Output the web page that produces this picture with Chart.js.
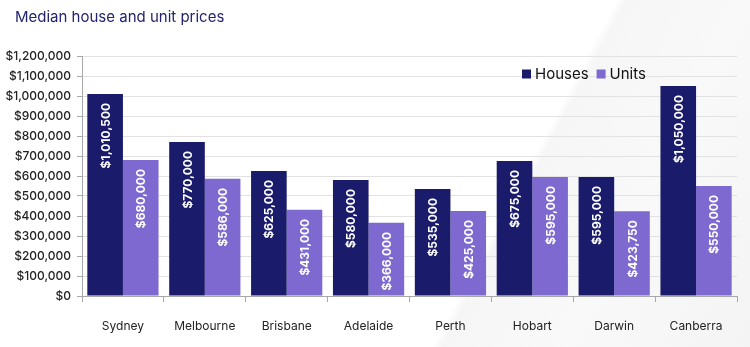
<!DOCTYPE html>
<html>
<head>
<meta charset="utf-8">
<script src="https://cdn.jsdelivr.net/npm/chart.js@4/dist/chart.umd.min.js"></script>
<style>
  html, body { margin: 0; padding: 0; }
  body {
    width: 750px; height: 347px; overflow: hidden;
    background: linear-gradient(118deg, #ffffff 0%, #ffffff 66%, #f6f6f7 67%, #f9f9fa 80%, #f4f4f5 100%);
    font-family: Inter, "Open Sans", sans-serif;
  }
  #wrap { position: relative; width: 750px; height: 347px; }
  #title {
    position: absolute; left: 15px; top: 7px;
    font-size: 15px; color: #23236e; line-height: 20px;
  }
  canvas { position: absolute; left: 0; top: 0; }
</style>
</head>
<body>
<div id="wrap">
  <canvas id="c" width="750" height="347"></canvas>
  <div id="title"></div>
</div>
<script>
// Median prices by capital city
const cities = ['Sydney', 'Melbourne', 'Brisbane', 'Adelaide', 'Perth', 'Hobart', 'Darwin', 'Canberra'];
const housePrices = [1010500, 770000, 625000, 580000, 535000, 675000, 595000, 1050000];
const unitPrices = [680000, 586000, 431000, 366000, 425000, 595000, 423750, 550000];
const seriesNames = ['Houses', 'Units'];
const chartTitle = 'Median house and unit prices';

document.getElementById('title').textContent = chartTitle;

const FONT = 'Inter, "Open Sans", sans-serif';
const NAVY = '#1a1b6b';
const LAVENDER = '#7d69d0';

const money = v => '$' + Math.round(v).toLocaleString('en-US');

// Value labels written vertically inside each bar, near its top
const barLabels = {
  id: 'barLabels',
  afterDatasetsDraw(chart) {
    const ctx = chart.ctx;
    chart.data.datasets.forEach((ds, di) => {
      const meta = chart.getDatasetMeta(di);
      meta.data.forEach((bar, i) => {
        ctx.save();
        ctx.translate(bar.x, bar.y + 9);
        ctx.rotate(-Math.PI / 2);
        ctx.fillStyle = '#ffffff';
        ctx.font = 'bold 12px ' + FONT;
        ctx.textAlign = 'right';
        ctx.textBaseline = 'middle';
        ctx.fillText(money(ds.data[i]), 0, 1);
        ctx.restore();
      });
    });
  }
};

// Compact legend placed inside the plot, upper right
const innerLegend = {
  id: 'innerLegend',
  afterDraw(chart) {
    const ctx = chart.ctx;
    ctx.save();
    ctx.font = '15px ' + FONT;
    ctx.textBaseline = 'middle';
    let x = 522;
    const y = 74;
    chart.data.datasets.forEach(ds => {
      ctx.fillStyle = ds.backgroundColor;
      ctx.fillRect(x, y - 4.5, 9, 9);
      x += 13;
      ctx.fillStyle = '#111111';
      ctx.fillText(ds.label, x, y);
      x += ctx.measureText(ds.label).width + 8;
    });
    ctx.restore();
  }
};

new Chart(document.getElementById('c'), {
  type: 'bar',
  data: {
    labels: cities,
    datasets: [
      { label: seriesNames[0], data: housePrices, backgroundColor: NAVY },
      { label: seriesNames[1], data: unitPrices, backgroundColor: LAVENDER }
    ]
  },
  options: {
    responsive: false,
    animation: false,
    layout: { padding: { top: 56, right: 13, bottom: 0, left: 0 } },
    datasets: { bar: { categoryPercentage: 0.87, barPercentage: 1.0 } },
    plugins: {
      legend: { display: false },
      tooltip: { enabled: false },
      title: { display: false }
    },
    scales: {
      x: {
        afterFit(scale) { scale.height = 51; },
        grid: { display: true, drawOnChartArea: false, drawTicks: true, tickLength: 6, color: '#a8a8a8', offset: true },
        border: { color: '#a8a8a8' },
        ticks: { color: '#222222', font: { family: FONT, size: 12 }, padding: 17 }
      },
      y: {
        min: 0,
        max: 1200000,
        afterFit(scale) { scale.width = 82; },
        grid: { color: '#e2e2e2', tickLength: 5, tickColor: '#a8a8a8' },
        border: { color: '#a8a8a8' },
        ticks: {
          stepSize: 100000,
          color: '#222222',
          font: { family: FONT, size: 12, weight: '500' },
          padding: 6,
          callback: v => money(v)
        }
      }
    }
  },
  plugins: [barLabels, innerLegend]
});
</script>
</body>
</html>
